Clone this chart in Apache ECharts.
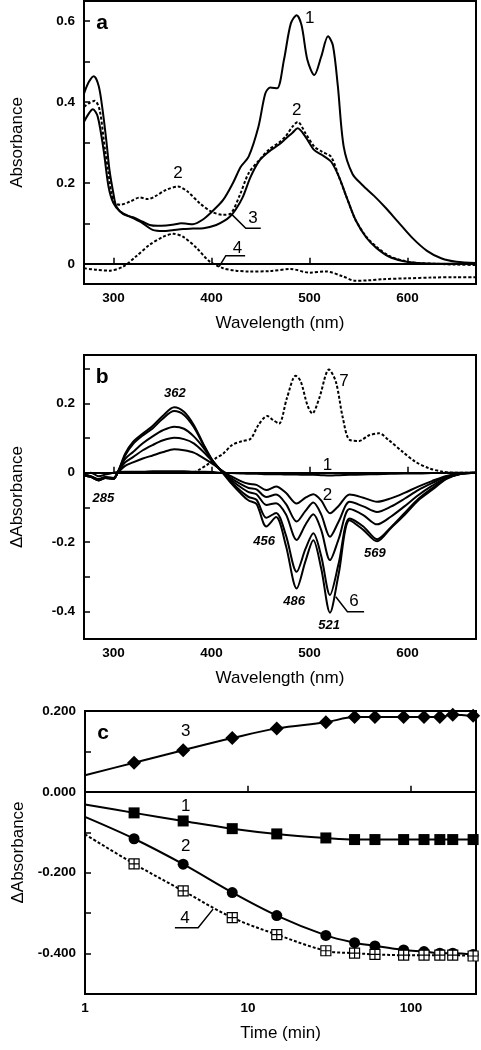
<!DOCTYPE html>
<html><head><meta charset="utf-8">
<script src="https://cdn.jsdelivr.net/npm/echarts@6/dist/echarts.min.js"></script>
<style>html,body{margin:0;padding:0;background:#fff}#c{width:481px;height:1050px}</style>
</head><body><div id="c"></div>
<script>
// ---------- Panel a: absorbance spectra ----------
const a1Wl = [270,275,280,285,289,293,296,300,303,310,320,330,337,345,354,362,369,375,381,391,401,412,422,430,438,448,455,460,467,474,481,487,492,498,505,512,519,524,529,535,544,554,566,578,590,605,620,635,650,670];
const a1Val = [0.421,0.45,0.464,0.44,0.38,0.3,0.232,0.174,0.142,0.123,0.115,0.104,0.096,0.094,0.095,0.097,0.10,0.099,0.098,0.109,0.13,0.158,0.2,0.24,0.265,0.339,0.421,0.436,0.434,0.504,0.594,0.615,0.59,0.504,0.467,0.512,0.563,0.54,0.44,0.29,0.222,0.195,0.168,0.138,0.105,0.064,0.032,0.013,0.005,0.002];
const a2Wl = [270,275,281,286,291,295,298,302,307,317,327,335,342,354,366,376,388,400,412,420,429,438,449,459,469,476,483,488,496,505,513,522,530,539,547,558,568,581,595,610,630,650,670];
const a2Val = [0.388,0.397,0.403,0.38,0.29,0.224,0.174,0.15,0.146,0.154,0.164,0.16,0.166,0.183,0.191,0.178,0.15,0.129,0.121,0.125,0.17,0.224,0.257,0.283,0.3,0.316,0.34,0.351,0.323,0.29,0.277,0.265,0.216,0.158,0.109,0.067,0.043,0.02,0.008,0.002,0.0,-0.002,-0.003];
const a3Wl = [270,275,279,284,290,295,300,307,320,330,340,351,360,371,381,392,405,413,419,425,432,440,449,459,469,476,483,488,496,505,513,522,530,539,547,558,568,581,595,610,630,650,670];
const a3Val = [0.351,0.372,0.382,0.364,0.281,0.191,0.15,0.129,0.113,0.10,0.084,0.081,0.083,0.086,0.087,0.088,0.096,0.106,0.117,0.135,0.165,0.215,0.255,0.278,0.295,0.31,0.325,0.335,0.314,0.281,0.269,0.253,0.216,0.158,0.109,0.065,0.04,0.018,0.007,0.002,0.0,0.0,0.0];
const a4Wl = [270,283,296,310,323,337,351,361,371,385,398,412,425,438,460,481,500,517,534,547,560,575,600,625,650,670];
const a4Val = [-0.011,-0.015,-0.017,-0.007,0.018,0.047,0.067,0.074,0.067,0.039,0.006,-0.011,-0.017,-0.019,-0.018,-0.013,-0.022,-0.019,-0.031,-0.042,-0.041,-0.038,-0.036,-0.034,-0.033,-0.033];

// ---------- Panel b: difference spectra ----------
const bWl = [270,277,285,292,300,305,312,320,330,340,350,362,372,382,392,402,410,420,430,438,446,456,466,476,487,496,504,512,521,530,541,555,569,583,597,611,625,640,655,670];
const b1Val = [-0.005,0.0,-0.01,-0.005,0.0,0.002,0.003,0.003,0.003,0.004,0.004,0.004,0.004,0.003,0.003,0.002,0.0,-0.001,-0.002,-0.003,-0.003,-0.004,-0.004,-0.005,-0.005,-0.006,-0.006,-0.007,-0.008,-0.007,-0.006,-0.005,-0.004,-0.003,-0.002,-0.002,-0.001,0.0,0.0,0.0];
const b2Val = [-0.005,-0.01,-0.018,-0.012,-0.015,0.002,0.02,0.03,0.041,0.05,0.059,0.068,0.065,0.058,0.042,0.024,0.008,-0.01,-0.024,-0.032,-0.035,-0.05,-0.04,-0.058,-0.089,-0.072,-0.062,-0.08,-0.117,-0.095,-0.063,-0.072,-0.084,-0.074,-0.058,-0.04,-0.024,-0.009,-0.002,0.0];
const b3Val = [-0.006,-0.011,-0.02,-0.013,-0.016,0.003,0.03,0.045,0.065,0.08,0.093,0.101,0.097,0.085,0.06,0.03,0.007,-0.015,-0.033,-0.044,-0.048,-0.07,-0.063,-0.09,-0.141,-0.11,-0.086,-0.12,-0.185,-0.14,-0.084,-0.097,-0.113,-0.098,-0.075,-0.05,-0.03,-0.011,-0.002,0.0];
const b4Val = [-0.007,-0.012,-0.021,-0.014,-0.017,0.004,0.04,0.06,0.085,0.105,0.122,0.133,0.127,0.105,0.072,0.032,0.006,-0.02,-0.042,-0.056,-0.062,-0.093,-0.088,-0.12,-0.194,-0.15,-0.12,-0.165,-0.252,-0.19,-0.105,-0.122,-0.149,-0.127,-0.097,-0.065,-0.038,-0.014,-0.003,0.0];
const b5Val = [-0.008,-0.012,-0.022,-0.015,-0.018,0.005,0.05,0.083,0.108,0.128,0.155,0.178,0.167,0.132,0.079,0.03,0.005,-0.026,-0.053,-0.07,-0.078,-0.13,-0.116,-0.18,-0.286,-0.22,-0.175,-0.24,-0.353,-0.26,-0.132,-0.155,-0.192,-0.158,-0.117,-0.076,-0.045,-0.016,-0.003,0.0];
const b6Val = [-0.008,-0.012,-0.022,-0.015,-0.018,0.005,0.055,0.089,0.113,0.135,0.163,0.189,0.176,0.138,0.082,0.032,0.005,-0.03,-0.06,-0.08,-0.09,-0.155,-0.128,-0.21,-0.334,-0.255,-0.195,-0.276,-0.404,-0.29,-0.137,-0.165,-0.198,-0.16,-0.122,-0.08,-0.05,-0.018,-0.003,0.0];
const b7Wl = [382,387,395,404,412,421,431,440,448,457,463,469,477,486,491,498,503,510,520,527,534,541,551,560,571,581,595,608,622,636,649,660,670];
const b7Val = [0.0,0.008,0.022,0.041,0.055,0.08,0.091,0.098,0.138,0.164,0.152,0.142,0.215,0.28,0.265,0.195,0.171,0.215,0.298,0.263,0.16,0.095,0.092,0.107,0.114,0.094,0.061,0.032,0.013,0.003,0.0,0.0,0.0];

// ---------- Panel c: kinetics ----------
const cTime = [2,4,8,15,30,45,60,90,120,150,180,240];
const c1Val = [-0.052,-0.072,-0.091,-0.104,-0.114,-0.118,-0.118,-0.118,-0.118,-0.118,-0.118,-0.118];
const c2Val = [-0.116,-0.179,-0.249,-0.306,-0.355,-0.373,-0.381,-0.391,-0.395,-0.399,-0.399,-0.402];
const c3Val = [0.072,0.103,0.133,0.157,0.172,0.185,0.185,0.185,0.185,0.185,0.191,0.188];
const c4Val = [-0.178,-0.245,-0.311,-0.353,-0.393,-0.399,-0.402,-0.404,-0.404,-0.404,-0.404,-0.406];
const cStartTime = 1;
const cStart = {c1: -0.031, c2: -0.062, c3: 0.041, c4: -0.105};

// tick labels
const wlTicks = [300,400,500,600];
const aYTicks = [0,0.1,0.2,0.3,0.4,0.5,0.6];
const aYLabels = [0,0.2,0.4,0.6];
const bYTicks = [-0.4,-0.3,-0.2,-0.1,0,0.1,0.2,0.3];
const bYLabels = [-0.4,-0.2,0,0.2];
const cYTicks = [-0.4,-0.3,-0.2,-0.1,0,0.1];
const cYLabels = [-0.4,-0.2,0,0.2];

const FONT = '"Liberation Sans", Arial, Helvetica, sans-serif';
const pair = (xs, ys) => xs.map((x, i) => [x, ys[i]]);

const chart = echarts.init(document.getElementById('c'), null, {renderer: 'canvas'});

const grids = [
  {left: 84, right: 5, top: 1, height: 283},
  {left: 84, right: 5, top: 355, height: 284},
  {left: 85, right: 5, top: 711, height: 283}
];
grids.forEach(g => { g.show = true; g.borderColor = '#000'; g.borderWidth = 2; g.containLabel = false; g.outerBoundsMode = 'none'; });

function valX(gi, name) {
  return {
    gridIndex: gi, type: 'value', min: 270, max: 670,
    name: name, nameLocation: 'middle', nameGap: 31,
    nameTextStyle: {fontFamily: FONT, fontSize: 17, color: '#000'},
    axisLine: {show: true, lineStyle: {color: '#000', width: 2}},
    axisTick: {show: true, inside: true, length: 6, customValues: wlTicks, lineStyle: {color: '#000', width: 1.5}},
    axisLabel: {customValues: wlTicks, fontFamily: FONT, fontSize: 13.5, fontWeight: 'bold', color: '#000', margin: 7},
    splitLine: {show: false}
  };
}
function valY(gi, min, max, ticks, labels, fmt, name) {
  return {
    gridIndex: gi, type: 'value', min: min, max: max,
    name: name, nameLocation: 'middle', nameGap: 58,
    nameTextStyle: {fontFamily: FONT, fontSize: 17, color: '#000'},
    axisLine: {show: true, lineStyle: {color: '#000', width: 2}},
    axisTick: {show: true, inside: true, length: 6, customValues: ticks, lineStyle: {color: '#000', width: 1.5}},
    axisLabel: {customValues: labels, fontFamily: FONT, fontSize: 13.5, fontWeight: 'bold', color: '#000', margin: 9, formatter: fmt},
    splitLine: {show: false}
  };
}
const fmt1 = v => (+(+v).toFixed(1)).toString();
const fmt3 = v => (+v).toFixed(3);

const solid = {color: '#000', width: 2, type: 'solid'};
const dotted = {color: '#000', width: 2, type: [3, 2]};
function spec(xi, data, style, z) {
  return {type: 'line', xAxisIndex: xi, yAxisIndex: xi, data: data, showSymbol: false, symbol: 'none',
    smooth: 0.3, lineStyle: style, z: z || 2, silent: true, animation: false};
}

const crossSq = 'path://M0 0H10V10H0ZM5 0V10M0 5H10';

function fit(vals, key, style) {
  return {type: 'line', xAxisIndex: 2, yAxisIndex: 2, data: [[cStartTime, cStart[key]]].concat(pair(cTime, vals)),
    showSymbol: false, symbol: 'none', smooth: 0.35, lineStyle: style, silent: true, animation: false, z: 2};
}
function marks(vals, symbol, size, fill) {
  return {type: 'scatter', xAxisIndex: 2, yAxisIndex: 2, data: pair(cTime, vals), symbol: symbol, symbolSize: size,
    itemStyle: {color: fill, borderColor: '#000', borderWidth: fill === '#fff' ? 1.2 : 0, opacity: 1}, z: 5, silent: true, animation: false};
}

const c3Fit = fit(c3Val, 'c3', {color: '#000', width: 2});
c3Fit.markLine = {silent: true, symbol: 'none', animation: false, label: {show: false},
  lineStyle: {color: '#000', width: 2, type: 'solid'}, data: [{yAxis: 0}]};

const option = {
  animation: false,
  backgroundColor: '#fff',
  grid: grids,
  xAxis: [
    valX(0, 'Wavelength (nm)'),
    valX(1, 'Wavelength (nm)'),
    {gridIndex: 2, type: 'log', logBase: 10, min: 1, max: 250,
      name: 'Time (min)', nameLocation: 'middle', nameGap: 31,
      nameTextStyle: {fontFamily: FONT, fontSize: 17, color: '#000'},
      axisLine: {show: true, lineStyle: {color: '#000', width: 2}},
      axisTick: {show: true, inside: true, length: 6, lineStyle: {color: '#000', width: 1.5}},
      minorTick: {show: false},
      axisLabel: {fontFamily: FONT, fontSize: 13.5, fontWeight: 'bold', color: '#000', margin: 7,
        showMaxLabel: false, formatter: v => (v === 1 || v === 10 || v === 100) ? String(v) : ''},
      splitLine: {show: false}}
  ],
  yAxis: [
    valY(0, -0.05, 0.65, aYTicks, aYLabels, fmt1, 'Absorbance'),
    valY(1, -0.48, 0.34, bYTicks, bYLabels, fmt1, '\u0394Absorbance'),
    valY(2, -0.5, 0.2, cYTicks, cYLabels, fmt3, '\u0394Absorbance')
  ],
  series: [
    spec(0, pair(a1Wl, a1Val), solid),
    spec(0, pair(a3Wl, a3Val), solid),
    spec(0, pair(a2Wl, a2Val), dotted, 3),
    spec(0, pair(a4Wl, a4Val), dotted, 3),
    spec(1, pair(bWl, b1Val), solid),
    spec(1, pair(bWl, b2Val), solid),
    spec(1, pair(bWl, b3Val), solid),
    spec(1, pair(bWl, b4Val), solid),
    spec(1, pair(bWl, b5Val), solid),
    spec(1, pair(bWl, b6Val), solid),
    spec(1, pair(b7Wl, b7Val), dotted, 3),
    c3Fit,
    fit(c1Val, 'c1', {color: '#000', width: 2}),
    fit(c2Val, 'c2', {color: '#000', width: 2}),
    fit(c4Val, 'c4', {color: '#000', width: 2, type: [3, 2]}),
    marks(c3Val, 'diamond', 14, '#000'),
    marks(c1Val, 'rect', 11, '#000'),
    marks(c2Val, 'circle', 11, '#000'),
    marks(c4Val, crossSq, 10, '#fff')
  ]
};
chart.setOption(option);

// ---------- annotations (data coordinates) ----------
const notes = [
  [0, 288.5, 0.595, 'a', 'bold 21px'],
  [0, 500.4, 0.607, '1', '17px'],
  [0, 487.1, 0.38, '2', '17px'],
  [0, 366, 0.224, '2', '17px'],
  [0, 442.5, 0.113, '3', '17px'],
  [0, 426.6, 0.039, '4', '17px'],
  [1, 288.5, 0.277, 'b', 'bold 21px'],
  [1, 535.4, 0.263, '7', '17px'],
  [1, 518.4, 0.022, '1', '17px'],
  [1, 518.4, -0.064, '2', '17px'],
  [1, 545.6, -0.372, '6', '17px'],
  [1, 362.7, 0.229, '362', 'italic bold 13px'],
  [1, 289.8, -0.074, '285', 'italic bold 13px'],
  [1, 453.8, -0.199, '456', 'italic bold 13px'],
  [1, 484.4, -0.372, '486', 'italic bold 13px'],
  [1, 520.1, -0.44, '521', 'italic bold 13px'],
  [1, 566.7, -0.233, '569', 'italic bold 13px'],
  [2, 1.29, 0.146, 'c', 'bold 21px'],
  [2, 4.15, 0.150, '3', '17px'],
  [2, 4.15, -0.036, '1', '17px'],
  [2, 4.15, -0.134, '2', '17px'],
  [2, 4.1, -0.313, '4', '17px']
];
const leaders = [
  [0, [[421.3, 0.121], [435.1, 0.088], [450.4, 0.088]]],
  [0, [[407.9, -0.007], [414.7, 0.02], [434.4, 0.02]]],
  [1, [[526.9, -0.358], [538.8, -0.401], [555.8, -0.401]]],
  [2, [[6.1, -0.29], [4.94, -0.336], [3.56, -0.336]]]
];
const graphics = [];
notes.forEach(n => {
  const p = chart.convertToPixel({gridIndex: n[0]}, [n[1], n[2]]);
  graphics.push({type: 'text', x: p[0], y: p[1], silent: true, z: 10,
    style: {text: n[3], font: n[4] + ' ' + FONT, fill: '#000', align: 'center', verticalAlign: 'middle',
      textAlign: 'center', textVerticalAlign: 'middle'}});
});
leaders.forEach(l => {
  const pts = l[1].map(q => chart.convertToPixel({gridIndex: l[0]}, q));
  graphics.push({type: 'polyline', silent: true, z: 10, shape: {points: pts},
    style: {stroke: '#000', lineWidth: 1.5, fill: null}});
});
chart.setOption({graphic: graphics});
</script>
</body></html>
